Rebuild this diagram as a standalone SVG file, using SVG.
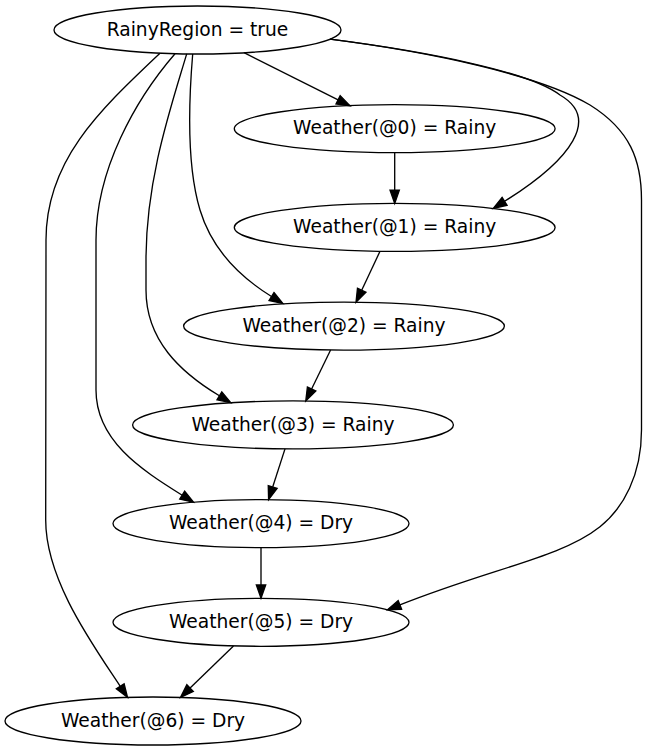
<svg xmlns="http://www.w3.org/2000/svg" width="648" height="752" viewBox="0 0 648 752">
<style>
.node ellipse{fill:none;stroke:#000;stroke-width:1.33}
.node text{font-family:"DejaVu Sans",sans-serif;font-size:18.67px;text-anchor:middle;fill:#000}
.edges path{fill:none;stroke:#000;stroke-width:1.33;marker-end:url(#ah)}
</style>
<defs>
<marker id="ah" markerUnits="userSpaceOnUse" markerWidth="16" markerHeight="12" viewBox="-1 -6 16 12" refX="0" refY="0" orient="auto" overflow="visible">
<path d="M0,-4.67 L13.33,0 L0,4.67 Z" fill="#000" stroke="#000" stroke-width="1.33"/>
</marker>
</defs>
<rect width="648" height="752" fill="#fff"/>
<g class="edges" id="edges">
<path d="M244,52.7 L338.1,99.8"/>
<path d="M394.7,152.7 L394.7,190.1"/>
<path d="M330,39.2 C430,52 530,72 560,95 C600,118 572.6,158.9 504.6,201.3"/>
<path d="M330,39.2 C430,52 540,75 590,105 C630,130 641.5,160 641.5,200 L641.5,430 C641.5,475 623.4,508.1 600,526.7 C561,557.7 492.9,567.9 399.9,604.9"/>
<path d="M192.7,54 C188,110 188,170 200,210 C212,250 240,277 271.5,296.5"/>
<path d="M186.7,53.9 C170,110 146,180 146,260 L146,290 C146,340 180,372 219.4,395.8"/>
<path d="M175,53.7 C135,100 96,170 96,240 L96,390 C96,440 140,469 182.2,495.2"/>
<path d="M160,53.2 C100,110 46,160 46,240 L45.7,520 C45.7,580 92.7,644.5 120.2,686.3"/>
<path d="M380,251.3 L361.7,290.2"/>
<path d="M330.6,350 L311.6,389"/>
<path d="M285,448.9 L272.7,487"/>
<path d="M261,547.6 L261,585"/>
<path d="M233.5,645.9 L190.1,688.1"/>
</g>
<g class="node" id="RainyRegion"><ellipse cx="197.5" cy="30" rx="143.5" ry="24"/><text x="197.5" y="35.6">RainyRegion = true</text></g>
<g class="node" id="W0"><ellipse cx="394.7" cy="128.7" rx="160.4" ry="24"/><text x="394.7" y="134.3">Weather(@0) = Rainy</text></g>
<g class="node" id="W1"><ellipse cx="394.7" cy="227.4" rx="160.4" ry="24"/><text x="394.7" y="233">Weather(@1) = Rainy</text></g>
<g class="node" id="W2"><ellipse cx="344" cy="326.1" rx="160.4" ry="24"/><text x="344" y="331.7">Weather(@2) = Rainy</text></g>
<g class="node" id="W3"><ellipse cx="293" cy="424.9" rx="160.4" ry="24"/><text x="293" y="430.5">Weather(@3) = Rainy</text></g>
<g class="node" id="W4"><ellipse cx="261" cy="523.6" rx="148" ry="24"/><text x="261" y="529.2">Weather(@4) = Dry</text></g>
<g class="node" id="W5"><ellipse cx="261" cy="622.3" rx="148" ry="24"/><text x="261" y="627.9">Weather(@5) = Dry</text></g>
<g class="node" id="W6"><ellipse cx="153" cy="721" rx="148" ry="24"/><text x="153" y="726.6">Weather(@6) = Dry</text></g>
</svg>
